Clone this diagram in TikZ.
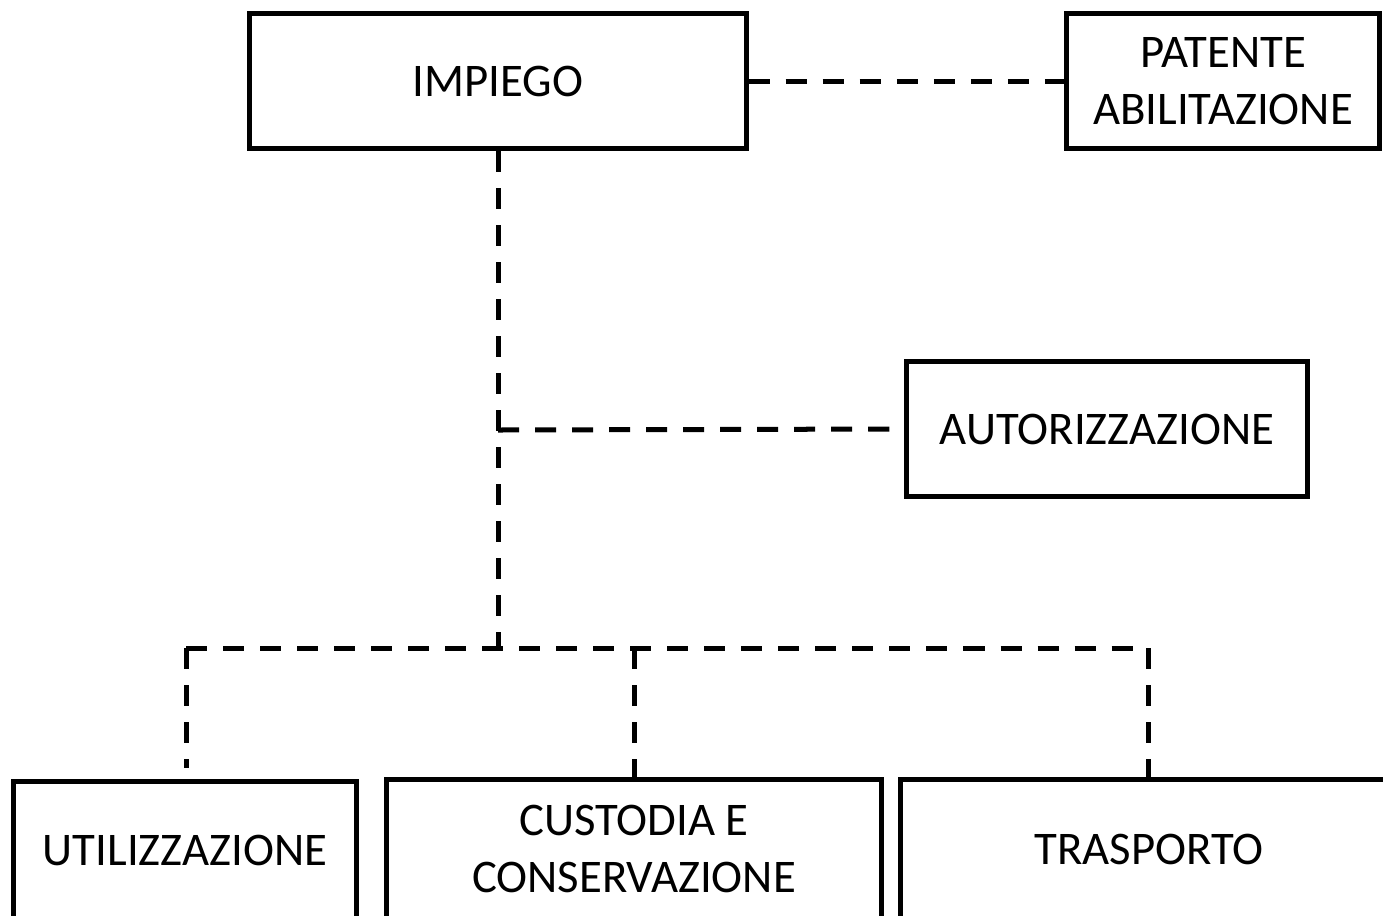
\documentclass[tikz,border=0pt]{standalone}
\usepackage{fontspec}
\setmainfont{Carlito}
\usepackage{tikz}
\usetikzlibrary{positioning}

\begin{document}
\begin{tikzpicture}[
  x=0.01cm, y=-0.01cm,
  box/.style={draw, line width=0.05cm, align=center, inner sep=0pt,
              font=\fontsize{13.3}{16.1}\selectfont},
  link/.style={line width=0.05cm, dash pattern=on 0.21cm off 0.16cm}
]
  \clip (0,0) rectangle (1383,915);

  \node[box, minimum width=4.96cm, minimum height=1.35cm] (impiego) at (498,81) {IMPIEGO};
  \node[box, minimum width=3.13cm, minimum height=1.35cm] (patente) at (1223,81) {PATENTE\\ABILITAZIONE};
  \node[box, minimum width=4.01cm, minimum height=1.34cm] (autor) at (1107,429) {AUTORIZZAZIONE};

  \node[box, minimum width=3.43cm, minimum height=1.36cm] (util) at (185,850) {UTILIZZAZIONE};
  \node[box, minimum width=4.95cm, minimum height=1.38cm] (cust) at (634,849) {CUSTODIA E\\CONSERVAZIONE};
  \node[box, minimum width=4.96cm, minimum height=1.38cm] (trasp) at (1149,849) {TRASPORTO};

  \coordinate (snodo) at (498,430);
  \coordinate (bus) at (498,648);
  \coordinate (busL) at (186,648);
  \coordinate (busC) at (634,648);
  \coordinate (busR) at (1148,648);
  \coordinate (endL) at (186,768);

  \draw[link] (impiego.east) -- (patente.west);
  \draw[link] (impiego.south) -- (bus);
  \draw[link] (snodo) -- (autor.west);
  \draw[link] (busL) -- (busR);
  \draw[link] (busL) -- (endL);
  \draw[link] (busC) -- (cust.north);
  \draw[link] (busR) -- (trasp.north -| busR);
\end{tikzpicture}
\end{document}
